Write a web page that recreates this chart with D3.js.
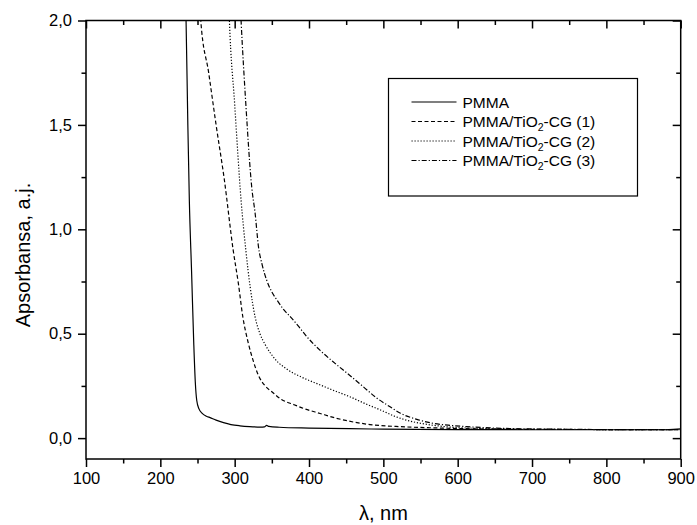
<!DOCTYPE html>
<html>
<head>
<meta charset="utf-8">
<script src="https://cdn.jsdelivr.net/npm/d3@7"></script>
<style>
  html, body { margin: 0; padding: 0; background: #fff; }
  svg { display: block; font-family: "Liberation Sans", Arial, sans-serif; }
</style>
</head>
<body>
<svg id="chart" width="697" height="525"></svg>
<script>
// ---- Data (wavelength nm, absorbance a.u.) ----
const seriesNames = ["PMMA", "PMMA/TiO2-CG (1)", "PMMA/TiO2-CG (2)", "PMMA/TiO2-CG (3)"];

const pmmaX = [232, 234.6, 237, 239, 242, 245, 247, 249, 252, 256, 262, 267, 275, 285, 295, 307, 320, 335, 340, 343, 346, 360, 400, 455, 500, 600, 700, 800, 880, 895, 900];
const pmmaY = [2.3, 2.0, 1.5, 1.14, 0.8, 0.45, 0.27, 0.18, 0.14, 0.12, 0.105, 0.098, 0.086, 0.074, 0.065, 0.059, 0.055, 0.053, 0.054, 0.061, 0.056, 0.052, 0.048, 0.045, 0.043, 0.041, 0.04, 0.04, 0.04, 0.043, 0.044];

const cg1X = [252, 254.4, 265, 275, 286, 298, 305, 311, 318, 325, 332, 341, 350, 363, 380, 392, 415, 437, 460, 482, 522, 560, 600, 650, 700, 800, 900];
const cg1Y = [2.2, 2.0, 1.75, 1.5, 1.24, 0.90, 0.74, 0.58, 0.46, 0.37, 0.30, 0.250, 0.222, 0.185, 0.16, 0.143, 0.118, 0.095, 0.077, 0.065, 0.055, 0.05, 0.046, 0.043, 0.042, 0.041, 0.04];

const cg2X = [291, 292.9, 300, 308.6, 315, 321, 327.5, 334, 341, 354, 372, 390, 410, 432, 455, 475, 496, 515, 532, 550, 575, 600, 650, 700, 800, 900];
const cg2Y = [2.2, 2.0, 1.6, 1.14, 0.90, 0.72, 0.58, 0.5, 0.448, 0.38, 0.326, 0.292, 0.262, 0.23, 0.198, 0.166, 0.135, 0.105, 0.085, 0.071, 0.058, 0.05, 0.045, 0.042, 0.041, 0.04];

const cg3X = [306, 308.6, 315, 323, 327.5, 332, 337, 343, 350, 357, 366, 375, 386, 397, 415, 435, 455, 473, 490, 509, 523, 545, 567, 590, 612, 650, 700, 800, 900];
const cg3Y = [2.2, 2.0, 1.6, 1.2, 1.077, 0.917, 0.83, 0.757, 0.70, 0.661, 0.615, 0.581, 0.535, 0.486, 0.42, 0.358, 0.3, 0.246, 0.195, 0.150, 0.119, 0.09, 0.071, 0.061, 0.055, 0.048, 0.044, 0.041, 0.04];

const xTicks = [100, 200, 300, 400, 500, 600, 700, 800, 900];
const yTicks = [0.0, 0.5, 1.0, 1.5, 2.0];
const yTickLabels = ["0,0", "0,5", "1,0", "1,5", "2,0"];
const xTitle = "λ, nm";
const yTitle = "Apsorbansa, a.j.";

// ---- Layout ----
const L = 86, R = 680.7, T = 20.5, B = 459;
const svg = d3.select("#chart");
const x = d3.scaleLinear().domain([100, 900]).range([L, R]);
const y = d3.scaleLinear().domain([-0.1, 2.0]).range([B, T]);

svg.append("defs").append("clipPath").attr("id", "clip")
  .append("rect").attr("x", L).attr("y", T).attr("width", R - L).attr("height", B - T);

const styles = [
  { dash: null },
  { dash: "4,2.5" },
  { dash: "1.2,1.8" },
  { dash: "5,2,1.2,2" }
];
const data = [
  d3.zip(pmmaX, pmmaY),
  d3.zip(cg1X, cg1Y),
  d3.zip(cg2X, cg2Y),
  d3.zip(cg3X, cg3Y)
];

const line = d3.line().x(d => x(d[0])).y(d => y(d[1])).curve(d3.curveMonotoneX);
const plot = svg.append("g").attr("clip-path", "url(#clip)");
data.forEach((d, i) => {
  plot.append("path").datum(d)
    .attr("d", line)
    .attr("fill", "none")
    .attr("stroke", "#000")
    .attr("stroke-width", 1.2)
    .attr("stroke-dasharray", styles[i].dash);
});

// ---- Axes ----
const minorX = d3.range(150, 900, 100);
const minorY = [0.25, 0.75, 1.25, 1.75];

function tickStyle(g) {
  g.select(".domain").remove();
  g.selectAll(".tick line").attr("stroke", "#000").attr("stroke-width", 1.5);
}

// bottom
const bottom = svg.append("g").attr("transform", `translate(0,${B})`)
  .call(d3.axisBottom(x).tickValues(xTicks).tickSize(8).tickPadding(5).tickFormat(d3.format("d")));
tickStyle(bottom);
bottom.selectAll("text").attr("font-size", 16.5).attr("fill", "#000").attr("font-family", "Liberation Sans, Arial, sans-serif");
svg.append("g").attr("transform", `translate(0,${B})`)
  .call(d3.axisBottom(x).tickValues(minorX).tickSize(4.5).tickFormat(""))
  .call(tickStyle);

// top (inward)
svg.append("g").attr("transform", `translate(0,${T})`)
  .call(d3.axisTop(x).tickValues(xTicks).tickSize(-8).tickFormat(""))
  .call(tickStyle);
svg.append("g").attr("transform", `translate(0,${T})`)
  .call(d3.axisTop(x).tickValues(minorX).tickSize(-4.5).tickFormat(""))
  .call(tickStyle);

// left
const left = svg.append("g").attr("transform", `translate(${L},0)`)
  .call(d3.axisLeft(y).tickValues(yTicks).tickSize(8).tickPadding(6).tickFormat((d, i) => yTickLabels[i]));
tickStyle(left);
left.selectAll("text").attr("font-size", 16.5).attr("fill", "#000").attr("font-family", "Liberation Sans, Arial, sans-serif");
svg.append("g").attr("transform", `translate(${L},0)`)
  .call(d3.axisLeft(y).tickValues(minorY).tickSize(4.5).tickFormat(""))
  .call(tickStyle);

// right (inward)
svg.append("g").attr("transform", `translate(${R},0)`)
  .call(d3.axisRight(y).tickValues(yTicks).tickSize(-8).tickFormat(""))
  .call(tickStyle);
svg.append("g").attr("transform", `translate(${R},0)`)
  .call(d3.axisRight(y).tickValues(minorY).tickSize(-4.5).tickFormat(""))
  .call(tickStyle);

// frame
svg.append("rect").attr("x", L).attr("y", T).attr("width", R - L).attr("height", B - T)
  .attr("fill", "none").attr("stroke", "#000").attr("stroke-width", 1.5);

// titles
svg.append("text").attr("x", (L + R) / 2).attr("y", 520).attr("text-anchor", "middle")
  .attr("font-size", 20).attr("fill", "#000").text(xTitle);
svg.append("text").attr("transform", "translate(29.5,255) rotate(-90)").attr("text-anchor", "middle")
  .attr("font-size", 20).attr("fill", "#000").text(yTitle);

// ---- Legend ----
const lg = svg.append("g");
lg.append("rect").attr("x", 388.5).attr("y", 78.5).attr("width", 249).attr("height", 117.5)
  .attr("fill", "#fff").attr("stroke", "#000").attr("stroke-width", 1.2);
const rowY = [102, 121.5, 141, 160.5];
seriesNames.forEach((name, i) => {
  lg.append("line").attr("x1", 411.5).attr("x2", 456.5).attr("y1", rowY[i]).attr("y2", rowY[i])
    .attr("stroke", "#000").attr("stroke-width", 1.1).attr("stroke-dasharray", styles[i].dash);
  const t = lg.append("text").attr("x", 462.5).attr("y", rowY[i] + 5.5)
    .attr("font-size", 15.5).attr("fill", "#000");
  const parts = name.split("TiO2");
  if (parts.length === 1) {
    t.text(name);
  } else {
    t.append("tspan").text(parts[0] + "TiO");
    t.append("tspan").attr("font-size", 10.5).attr("dy", 4).text("2");
    t.append("tspan").attr("dy", -4).text(parts[1]);
  }
});
</script>
</body>
</html>
